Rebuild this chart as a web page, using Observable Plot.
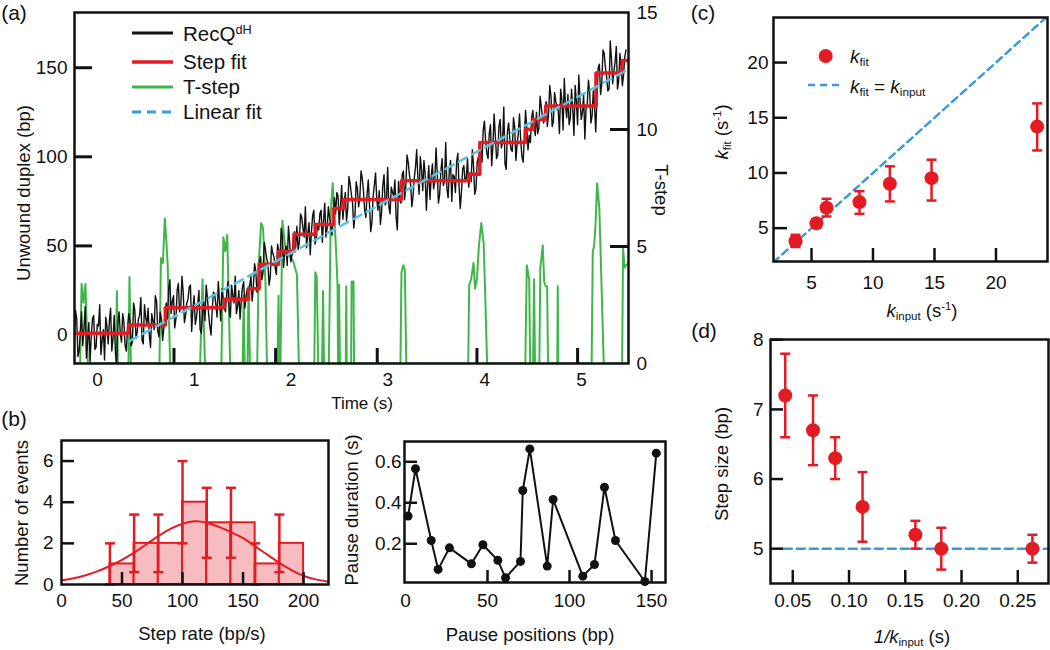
<!DOCTYPE html>
<html><head><meta charset="utf-8">
<script src="https://cdn.jsdelivr.net/npm/d3@7"></script>
<script src="https://cdn.jsdelivr.net/npm/@observablehq/plot@0.6"></script>
<style>
body{margin:0;background:#fff;}
#fig{position:relative;width:1050px;height:650px;overflow:hidden;font-family:"Liberation Sans",Arial,sans-serif;color:#111;background:#fff;}
.layer{position:absolute;}
.lbl{position:absolute;white-space:nowrap;line-height:1;}
.lbl sub{font-size:0.62em;vertical-align:-0.3em;line-height:0;}
.lbl sup{font-size:0.62em;vertical-align:0.55em;line-height:0;}
</style></head><body><div id="fig"></div>
<script>
// ---------------- DATA ----------------
// Panel (a): unwinding trace (RecQdH); samples at traceStart + i*traceStep, and mid-samples half a step later
const traceStart = -0.24, traceStep = 0.025;
const traceValues = [
 -3, 9, -9, 13, 4, -13, 7, -1, 11, -7, 5, -11, 3, 10, -5, 15, -2, -10, 6, 1, 12, -6, 4,
 8, -4, 14, 2, 11, -3, 17, 6, 0, 12, 3, 19, -1, 9, 4,
 18, 26, 12, 22, 9, 29, 16, 24, 11, 20, 28, 14, 6, 17, 3, 12, 8, 21, 5, 14, 23, 10, 19, 26, 15,
 24, 14, 28, 18, 12, 25, 19, 30, 22,
 22, 33, 27, 36, 30,
 44, 35, 48, 40, 33, 46, 38, 51,
 42, 55, 47, 39, 52, 45, 58,
 61, 52, 66, 55, 49, 63, 58, 70, 54,
 59, 70, 64, 55, 72, 61, 67,
 68, 78, 72, 65,
 80, 71, 85, 74, 67, 82, 77, 88, 70, 79, 73, 63, 84, 76, 81, 69, 90, 75, 72, 83, 78, 66, 86, 74,
 92, 83, 97, 85, 78, 94, 88, 100, 81, 90, 84, 76, 96, 87, 91, 79, 99, 86, 82, 93, 75, 89, 97, 84, 80, 95, 88, 83,
 86, 95, 82, 100,
 104, 115, 109, 99, 118, 106, 112, 101, 121, 108, 96, 114, 110, 103, 117, 107, 124, 100, 111, 116,
 112, 122, 117,
 125, 116, 128, 119, 131,
 124, 134, 120, 131, 126, 138, 115, 129, 135, 122, 127, 140, 118, 132, 125, 110, 130, 136, 123, 128, 133,
 152, 141, 158, 145, 138, 155, 148, 162, 143, 151, 146,
 160
];
const traceMidValues = [
 14, -12, 2, -6, 16, -4, -15, 9, -8, 6, 17, -3, -14, 5, 8, -9, 11, -16, 13, -4, 7, -9, 12,
 -6, 18, -2, 9, 21, -5, 10, 15, -7, 8, 22, 2, 13, -3, 11,
 9, 31, 19, 4, 25, 13, 33, 7, 18, 27, 2, 22, 10, 25, 1, 19, 28, 12, 0, 24, 17, 30, 8, 21, 13,
 30, 10, 22, 33, 16, 9, 27, 15, 26,
 28, 19, 40, 24, 41,
 31, 52, 43, 28, 50, 44, 34, 47,
 60, 38, 50, 61, 41, 55, 49,
 48, 68, 60, 72, 57, 45, 67, 51, 62,
 68, 52, 74, 60, 66, 56, 77,
 80, 62, 84, 73,
 64, 89, 79, 60, 86, 72, 92, 81, 66, 87, 58, 78, 91, 70, 62, 84, 73, 94, 68, 80, 87, 59, 77, 90,
 76, 101, 90, 72, 88, 104, 79, 93, 98, 70, 95, 89, 82, 105, 74, 92, 84, 108, 77, 98, 90, 80, 102, 71, 93, 86, 99, 91,
 104, 79, 97, 93,
 97, 120, 102, 113, 95, 124, 99, 117, 105, 128, 93, 119, 104, 122, 98, 113, 109, 97, 126, 104,
 108, 126, 112,
 113, 134, 122, 127, 117,
 140, 117, 136, 128, 113, 132, 144, 122, 118, 138, 112, 131, 146, 121, 135, 127, 143, 119, 137, 114, 150,
 135, 160, 150, 137, 165, 141, 153, 138, 158, 140, 156
];
// Step fit
const stepTimes  = [-0.24, 0.32, 0.70, 1.31, 1.56, 1.67, 1.87, 2.03, 2.25, 2.44, 2.54, 3.14, 3.84, 3.95, 4.42, 4.50, 4.63, 5.15, 5.42, 5.49];
const stepLevels = [1, 5.6, 15.3, 20, 26, 39.7, 46.8, 56.6, 62, 71, 76, 86.5, 90.2, 108, 115.5, 121, 128.5, 147, 154, 154];
// Linear fit
const linFitTimes = [0.33, 5.47];
const linFitValues = [-3.4, 148.7];
// T-step
const tstepTimes = [-0.24,-0.18,-0.165,-0.145,-0.125,-0.10, 0.19,0.20,0.21, 0.32,0.33,0.345,
 0.64,0.655,0.675,0.695,0.71,0.725,0.75, 1.06,1.085,1.11, 1.28,1.30,1.32,1.34,1.37,
 1.50,1.51,1.52,1.55,1.56,1.575, 1.65,1.665,1.69,1.71,1.735,1.75, 1.86,1.87,1.88,
 1.89,1.91,1.94,1.98,2.02,2.06,2.08, 2.24,2.25,2.265,2.28, 2.32,2.33,2.34,
 2.39,2.41,2.43,2.45,2.465,2.48,2.485,2.495,2.505, 2.565,2.57,2.575, 2.62,2.625,2.645,2.65,
 3.13,3.14,3.16,3.175,3.19, 3.83,3.84,3.86,3.885,3.90,3.92,3.94,3.965,3.99,4.005,4.025,
 4.42,4.435,4.46,4.47, 4.50,4.51,4.52, 4.565,4.575,4.60,4.615,4.63,4.645,4.655, 4.75,4.755,4.76,
 5.105,5.117,5.13,5.145,5.162,5.185,5.205,5.23, 5.42,5.43,5.445,5.46,5.49];
const tstepValues = [0,0,3.4,2.6,3.4,0, 0,3.1,0, 0,3.7,0,
 0,4.5,4.3,6.2,5.3,4.2,0, 0,3.6,0, 0,5.4,4.8,5.5,0,
 0,2.9,0,0,3.3,0, 0,4.2,6.0,5.8,3.5,0, 0,2.9,0,
 0,6.1,5.0,4.6,4.4,3.8,0, 0,3.9,3.7,0, 0,3.1,0,
 0,6.5,7.7,6.0,4.8,3.3,0,3.35,0, 0,3.3,0, 0,3.5,3.5,0,
 0,3.9,4.2,4.0,0, 0,3.35,3.6,4.3,3.2,3.6,5.0,6.0,5.1,3.0,0,
 0,4.2,3.6,0, 0,3.6,0, 0,4.1,5.05,3.5,3.3,3.3,0, 0,3.3,0,
 0,4.8,5.0,5.9,7.7,6.6,3.7,0, 0,4.9,4.1,4.2,4.3];
const timeTickLabels = [0, 1, 2, 3, 4, 5];
const timeTickMarks = [0.79, 1.84, 2.89, 3.92, 4.96];
const duplexTickLabels = [0, 50, 100, 150];
const duplexTickMarks = [50, 100, 150];
const tstepTickLabels = [0, 5, 10, 15];
const tstepTickMarks = [5, 10];

// Panel (b) left: step-rate histogram
const binStarts = [40, 60, 80, 100, 120, 140, 160, 180];
const binEnds   = [60, 80, 100, 120, 140, 160, 180, 200];
const binCounts = [1, 2, 2, 4, 3, 3, 1, 2];
const binErrors = [1, 1.4, 1.4, 2, 1.7, 1.7, 1, 1.4];
const gaussX = [0,10,20,30,40,50,60,70,80,90,100,110,120,130,140,150,160,170,180,190,200,210,220];
const gaussY = [0.2,0.3,0.45,0.65,0.9,1.2,1.55,1.95,2.35,2.7,2.95,3.07,3.0,2.8,2.55,2.25,1.85,1.45,1.05,0.7,0.42,0.25,0.14];
const rateTickLabels = [0, 50, 100, 150, 200];
const rateTickMarks = [50, 100, 150, 200];
const eventTickLabels = [0, 2, 4, 6];
const eventTickMarks = [2, 4, 6];

// Panel (b) right: pause duration vs position
const pausePositions = [1.6, 6.1, 15.7, 19.9, 26.8, 40.2, 47.2, 56.3, 61, 70.1, 71.5, 75.8, 86.4, 90, 108.1, 115.2, 121.3, 128, 145.9, 152.9];
const pauseDurations = [0.335, 0.566, 0.216, 0.075, 0.18, 0.102, 0.195, 0.119, 0.034, 0.114, 0.46, 0.663, 0.091, 0.416, 0.042, 0.099, 0.476, 0.216, 0.016, 0.642];
const posTickLabels = [0, 50, 100, 150];
const posTickMarks = [50, 100, 150];
const durTickLabels = [0.2, 0.4, 0.6];

// Panel (c)
const kInput = [3.7, 5.4, 6.22, 8.9, 11.37, 14.76, 23.35];
const kFit   = [3.82, 5.45, 6.85, 7.36, 9.02, 9.53, 14.2];
const kFitLo = [3.3, 5.1, 6.06, 6.3, 7.42, 7.5, 12.04];
const kFitHi = [4.4, 5.8, 7.66, 8.35, 10.6, 11.2, 16.3];
const identityLine = [1.9, 24.2];
const kTickLabels = [5, 10, 15, 20];

// Panel (d)
const invK = [0.0433, 0.068, 0.0877, 0.112, 0.159, 0.182, 0.263];
const stepSize = [7.2, 6.7, 6.3, 5.6, 5.2, 5.0, 5.0];
const stepSizeLo = [6.6, 6.2, 6.0, 5.1, 5.0, 4.7, 4.8];
const stepSizeHi = [7.8, 7.2, 6.6, 6.1, 5.4, 5.3, 5.2];
const refStepX = [0.042, 0.2773];
const refStepY = 5;
const invKTickLabels = [0.05, 0.10, 0.15, 0.20, 0.25];
const stepTickLabels = [5, 6, 7, 8];

// ---------------- STYLE ----------------
const FONT = '"Liberation Sans", Arial, sans-serif';
const RED = "#e31b23", PINK = "#f7bcc0", GREEN = "#40b64a", CYAN = "#58c3e2", BLUE = "#3b9ad8", INK = "#111";
const TFS = 19; // tick label font size
const fig = document.getElementById("fig");
const capSymbol = {draw(ctx, size) { const w = Math.sqrt(size / Math.PI); ctx.moveTo(-w, 0); ctx.lineTo(w, 0); }};
const fmtInt = d3.format("d");

function place(node, left, top) {
  node.classList.add("layer");
  node.style.left = left + "px"; node.style.top = top + "px";
  fig.appendChild(node);
}
function label(html, cx, cy, size, rot = 0, style = "") {
  const d = document.createElement("div");
  d.className = "lbl"; d.innerHTML = html;
  d.style.cssText += `left:${cx}px;top:${cy}px;font-size:${size}px;transform:translate(-50%,-50%) rotate(${rot}deg);${style}`;
  fig.appendChild(d);
}
function leftText(html, x, cy, size, style = "") {
  const d = document.createElement("div");
  d.className = "lbl"; d.innerHTML = html;
  d.style.cssText += `left:${x}px;top:${cy}px;font-size:${size}px;transform:translate(0,-50%);${style}`;
  fig.appendChild(d);
}
function overlaySvg(inner) {
  const s = document.createElementNS("http://www.w3.org/2000/svg", "svg");
  s.setAttribute("width", 1050); s.setAttribute("height", 650);
  s.style.cssText = "position:absolute;left:0;top:0;pointer-events:none;overflow:visible";
  s.innerHTML = inner;
  fig.appendChild(s);
}
function svgLine(x1, x2, y, color, width, dash) {
  overlaySvg(`<line x1="${x1}" x2="${x2}" y1="${y}" y2="${y}" stroke="${color}" stroke-width="${width}" ${dash ? `stroke-dasharray="${dash}"` : ""}/>`);
}
function svgDot(cx, cy, r, color) {
  overlaySvg(`<circle cx="${cx}" cy="${cy}" r="${r}" fill="${color}"/>`);
}
const baseStyle = {background: "transparent", fontFamily: FONT, fontSize: TFS + "px", color: INK, overflow: "visible"};

// ---------------- PANEL (a) ----------------
const trace = [];
traceValues.forEach((v, i) => {
  trace.push({t: traceStart + i * traceStep, v});
  if (i < traceMidValues.length) trace.push({t: traceStart + (i + 0.5) * traceStep, v: traceMidValues[i]});
});
const steps = stepTimes.map((t, i) => ({t, v: stepLevels[i]}));
const linFit = linFitTimes.map((t, i) => ({t, v: linFitValues[i]}));
const tstep = tstepTimes.map((t, i) => ({t, v: tstepValues[i]}));
const aW = 680, aH = 400, aML = 74, aMR = 52, aMT = 12, aMB = 37;
const aIW = aW - aML - aMR, aIH = aH - aMT - aMB;
const aX = {domain: [-0.238, 5.486]};

const plotA2 = Plot.plot({
  width: aW, height: aH, marginLeft: aML, marginRight: aMR, marginTop: aMT, marginBottom: aMB,
  style: baseStyle, x: aX, y: {domain: [0, 15]},
  marks: [
    Plot.line(tstep, {x: "t", y: "v", stroke: GREEN, strokeWidth: 2, clip: true}),
    Plot.ruleY(tstepTickMarks, {y: d => d, insetLeft: aIW - 18, stroke: INK, strokeWidth: 3}),
    Plot.axisY({anchor: "right", ticks: tstepTickLabels, tickSize: 0, tickPadding: 8, tickFormat: fmtInt, fontSize: TFS, label: null}),
    Plot.axisX({ticks: [], label: null})
  ]
});
place(plotA2, 0, 0);

const plotA = Plot.plot({
  width: aW, height: aH, marginLeft: aML, marginRight: aMR, marginTop: aMT, marginBottom: aMB,
  style: baseStyle, x: aX, y: {domain: [-16, 181]},
  marks: [
    Plot.line(trace, {x: "t", y: "v", stroke: INK, strokeWidth: 1.4, clip: true}),
    Plot.line(steps, {x: "t", y: "v", curve: "step-after", stroke: RED, strokeWidth: 3.5, clip: true}),
    Plot.line(linFit, {x: "t", y: "v", stroke: CYAN, strokeWidth: 2.5, strokeDasharray: "9,6", clip: true}),
    Plot.frame({stroke: INK, strokeWidth: 2.5}),
    Plot.ruleX(timeTickMarks, {x: d => d, insetTop: aIH - 15, stroke: INK, strokeWidth: 3}),
    Plot.ruleY(duplexTickMarks, {y: d => d, insetRight: aIW - 18, stroke: INK, strokeWidth: 3}),
    Plot.axisX({ticks: timeTickLabels, tickSize: 0, tickPadding: 9, tickFormat: fmtInt, fontSize: TFS, label: null}),
    Plot.axisY({ticks: duplexTickLabels, tickSize: 0, tickPadding: 7, tickFormat: fmtInt, fontSize: TFS, label: null})
  ]
});
place(plotA, 0, 0);

label("(a)", 14, 12, 21);
label("Unwound duplex (bp)", 24, 193, 18.5, -90);
label("T-step", 661, 190, 18.5, 90);
label("Time (s)", 362, 403, 17);
// legend (a)
svgLine(132, 173, 33, INK, 3);
svgLine(132, 173, 62, RED, 3.5);
svgLine(132, 173, 87, GREEN, 3);
svgLine(132, 173, 112, BLUE, 3, "9,6");
leftText("RecQ<sup>dH</sup>", 183, 34, 20.5);
leftText("Step fit", 183, 62, 20.5);
leftText("T-step", 183, 87, 20.5);
leftText("Linear fit", 183, 112, 20.5);

// ---------------- PANEL (b) left ----------------
const bins = binStarts.map((x0, i) => ({x0, x1: binEnds[i], n: binCounts[i], lo: Math.max(0, binCounts[i] - binErrors[i]), hi: binCounts[i] + binErrors[i]}));
const gauss = gaussX.map((x, i) => ({x, y: gaussY[i]}));
const bW = 340, bH = 230, bML = 61, bMR = 12, bMT = 20, bMB = 66;
const bIW = bW - bML - bMR, bIH = bH - bMT - bMB;
const plotB1 = Plot.plot({
  width: bW, height: bH, marginLeft: bML, marginRight: bMR, marginTop: bMT, marginBottom: bMB,
  style: baseStyle, x: {domain: [0, 220.6]}, y: {domain: [0, 7.0]},
  marks: [
    Plot.rectY(bins, {x1: "x0", x2: "x1", y: "n", fill: PINK, stroke: RED, strokeWidth: 2}),
    Plot.line(gauss, {x: "x", y: "y", stroke: RED, strokeWidth: 2, curve: "natural", clip: true}),
    Plot.ruleX(bins, {x: "x0", y1: "lo", y2: "hi", stroke: RED, strokeWidth: 2.5}),
    Plot.dot(bins, {x: "x0", y: "hi", symbol: capSymbol, r: 5, fill: "none", stroke: RED, strokeWidth: 2.5}),
    Plot.dot(bins, {x: "x0", y: "lo", symbol: capSymbol, r: 5, fill: "none", stroke: RED, strokeWidth: 2.5}),
    Plot.frame({stroke: INK, strokeWidth: 2.5}),
    Plot.ruleX(rateTickMarks, {x: d => d, insetTop: bIH - 12, stroke: INK, strokeWidth: 2.5}),
    Plot.ruleY(eventTickMarks, {y: d => d, insetRight: bIW - 13, stroke: INK, strokeWidth: 2.5}),
    Plot.axisX({ticks: rateTickLabels, tickSize: 0, tickPadding: 9, tickFormat: fmtInt, fontSize: TFS, label: null}),
    Plot.axisY({ticks: eventTickLabels, tickSize: 0, tickPadding: 8, tickFormat: fmtInt, fontSize: TFS, label: null})
  ]
});
place(plotB1, 0, 420);
label("(b)", 14, 418, 21);
label("Number of events", 22, 513, 18.5, -90);
label("Step rate (bp/s)", 202, 634, 18.5);

// ---------------- PANEL (b) right ----------------
const pauses = pausePositions.map((x, i) => ({x, y: pauseDurations[i]}));
const cW = 330, cH = 230, cML = 64, cMR = 5, cMT = 21, cMB = 68;
const cIW = cW - cML - cMR, cIH = cH - cMT - cMB;
const plotB2 = Plot.plot({
  width: cW, height: cH, marginLeft: cML, marginRight: cMR, marginTop: cMT, marginBottom: cMB,
  style: baseStyle, x: {domain: [-0.6, 158.5]}, y: {domain: [0.011, 0.699]},
  marks: [
    Plot.line(pauses, {x: "x", y: "y", stroke: INK, strokeWidth: 2}),
    Plot.dot(pauses, {x: "x", y: "y", r: 4.5, fill: INK}),
    Plot.frame({stroke: INK, strokeWidth: 2.5}),
    Plot.ruleX(posTickMarks, {x: d => d, insetTop: cIH - 12, stroke: INK, strokeWidth: 2.5}),
    Plot.ruleY(durTickLabels, {y: d => d, insetRight: cIW - 13, stroke: INK, strokeWidth: 2.5}),
    Plot.axisX({ticks: posTickLabels, tickSize: 0, tickPadding: 11, tickFormat: fmtInt, fontSize: TFS, label: null}),
    Plot.axisY({ticks: durTickLabels, tickSize: 0, tickPadding: 3, tickFormat: d3.format(".1f"), fontSize: TFS, label: null})
  ]
});
place(plotB2, 340, 420);
label("Pause duration (s)", 352, 510, 18.5, -90);
label("Pause positions (bp)", 530, 635, 18.5);

// ---------------- PANEL (c) ----------------
const kPts = kInput.map((x, i) => ({x, y: kFit[i], lo: kFitLo[i], hi: kFitHi[i]}));
const diag = identityLine.map(v => ({x: v, y: v}));
const dW = 370, dH = 330, dML = 93, dMR = 3, dMT = 17, dMB = 69;
const dIW = dW - dML - dMR, dIH = dH - dMT - dMB;
const plotC = Plot.plot({
  width: dW, height: dH, marginLeft: dML, marginRight: dMR, marginTop: dMT, marginBottom: dMB,
  style: baseStyle, x: {domain: [1.91, 24.19]}, y: {domain: [1.98, 24.08]},
  marks: [
    Plot.line(diag, {x: "x", y: "y", stroke: BLUE, strokeWidth: 2.5, strokeDasharray: "7,5", clip: true}),
    Plot.ruleX(kPts, {x: "x", y1: "lo", y2: "hi", stroke: RED, strokeWidth: 2.5}),
    Plot.dot(kPts, {x: "x", y: "hi", symbol: capSymbol, r: 5, fill: "none", stroke: RED, strokeWidth: 2.5}),
    Plot.dot(kPts, {x: "x", y: "lo", symbol: capSymbol, r: 5, fill: "none", stroke: RED, strokeWidth: 2.5}),
    Plot.dot(kPts, {x: "x", y: "y", r: 7, fill: RED}),
    Plot.frame({stroke: INK, strokeWidth: 2.5}),
    Plot.ruleX(kTickLabels, {x: d => d, insetTop: dIH - 13, stroke: INK, strokeWidth: 2.5}),
    Plot.ruleY(kTickLabels, {y: d => d, insetRight: dIW - 14, stroke: INK, strokeWidth: 2.5}),
    Plot.axisX({ticks: kTickLabels, tickSize: 0, tickPadding: 14, tickFormat: fmtInt, fontSize: TFS, label: null}),
    Plot.axisY({ticks: kTickLabels, tickSize: 0, tickPadding: 5, tickFormat: fmtInt, fontSize: TFS, label: null})
  ]
});
place(plotC, 680, 0);
label("(c)", 703, 12, 21);
label("<i>k</i><sub>fit</sub> (s<sup>-1</sup>)", 722, 132, 18.5, -90);
label("<i>k</i><sub>input</sub> (s<sup>-1</sup>)", 922, 311, 18.5);
svgDot(825.7, 56, 7, RED);
leftText("<i>k</i><sub>fit</sub>", 850, 56, 19);
svgLine(808, 840, 85, BLUE, 2.5, "7,5");
leftText("<i>k</i><sub>fit</sub> = <i>k</i><sub>input</sub>", 850, 86, 19);

// ---------------- PANEL (d) ----------------
const sPts = invK.map((x, i) => ({x, y: stepSize[i], lo: stepSizeLo[i], hi: stepSizeHi[i]}));
const ref = refStepX.map(x => ({x, y: refStepY}));
const eW = 370, eH = 330, eML = 90, eMR = 2, eMT = 19, eMB = 67;
const eIW = eW - eML - eMR, eIH = eH - eMT - eMB;
const plotD = Plot.plot({
  width: eW, height: eH, marginLeft: eML, marginRight: eMR, marginTop: eMT, marginBottom: eMB,
  style: baseStyle, x: {domain: [0.0302, 0.2773]}, y: {domain: [4.5, 8.004]},
  marks: [
    Plot.line(ref, {x: "x", y: "y", stroke: BLUE, strokeWidth: 2.5, strokeDasharray: "8,5"}),
    Plot.ruleX(sPts, {x: "x", y1: "lo", y2: "hi", stroke: RED, strokeWidth: 2.5}),
    Plot.dot(sPts, {x: "x", y: "hi", symbol: capSymbol, r: 5, fill: "none", stroke: RED, strokeWidth: 2.5}),
    Plot.dot(sPts, {x: "x", y: "lo", symbol: capSymbol, r: 5, fill: "none", stroke: RED, strokeWidth: 2.5}),
    Plot.dot(sPts, {x: "x", y: "y", r: 7, fill: RED}),
    Plot.frame({stroke: INK, strokeWidth: 2.5}),
    Plot.ruleX(invKTickLabels, {x: d => d, insetTop: eIH - 13, stroke: INK, strokeWidth: 2.5}),
    Plot.ruleY(stepTickLabels, {y: d => d, insetRight: eIW - 13, stroke: INK, strokeWidth: 2.5}),
    Plot.axisX({ticks: invKTickLabels, tickSize: 0, tickPadding: 10, tickFormat: d3.format(".2f"), fontSize: TFS, label: null}),
    Plot.axisY({ticks: stepTickLabels, tickSize: 0, tickPadding: 7, tickFormat: fmtInt, fontSize: TFS, label: null})
  ]
});
place(plotD, 680, 320);
label("(d)", 704, 330, 21);
label("Step size (bp)", 722, 464, 18.5, -90);
label("<i>1/k</i><sub>input</sub> (s)", 912, 637, 18.5);
</script></body></html>
